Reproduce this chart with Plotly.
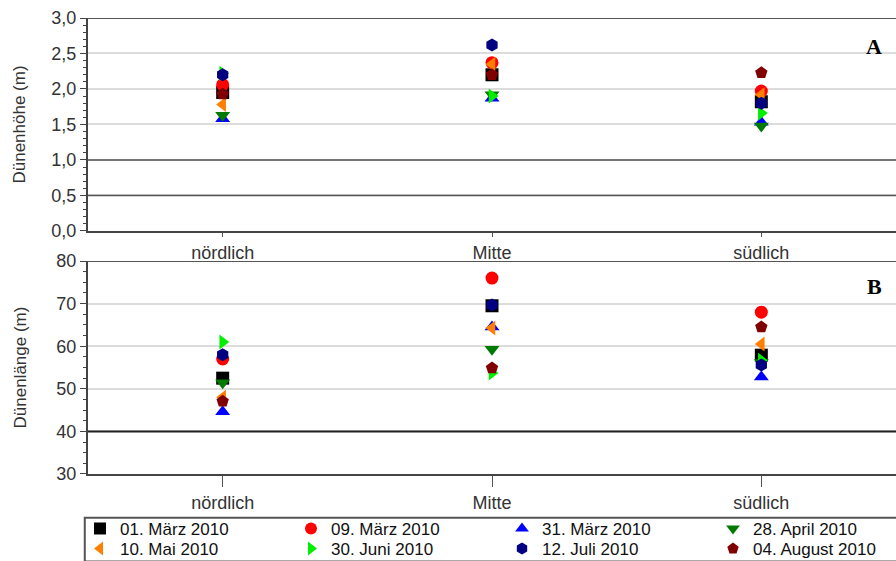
import plotly.graph_objects as go
from plotly.subplots import make_subplots

categories = ["nördlich", "Mitte", "südlich"]
dates = ["01. März 2010", "09. März 2010", "31. März 2010", "28. April 2010",
         "10. Mai 2010", "30. Juni 2010", "12. Juli 2010", "04. August 2010"]

# Dünenhöhe (m) per date: [nördlich, Mitte, südlich]
hoehe_01maerz = [1.95, 2.20, 1.82]
hoehe_09maerz = [2.06, 2.37, 1.97]
hoehe_31maerz = [1.58, 1.87, 1.53]
hoehe_28april = [1.63, 1.92, 1.48]
hoehe_10mai = [1.78, 2.35, 1.92]
hoehe_30juni = [2.22, 1.90, 1.66]
hoehe_12juli = [2.20, 2.62, 1.80]
hoehe_04aug = [1.93, 2.20, 2.23]

# Dünenlänge (m) per date: [nördlich, Mitte, südlich]
laenge_01maerz = [52.5, 69.5, 57.9]
laenge_09maerz = [57.0, 76.0, 68.0]
laenge_31maerz = [44.6, 64.5, 52.8]
laenge_28april = [51.4, 59.3, 56.2]
laenge_10mai = [48.0, 64.3, 60.5]
laenge_30juni = [61.0, 53.7, 56.7]
laenge_12juli = [58.0, 69.7, 55.6]
laenge_04aug = [47.1, 54.9, 64.5]

hoehe = [hoehe_01maerz, hoehe_09maerz, hoehe_31maerz, hoehe_28april,
         hoehe_10mai, hoehe_30juni, hoehe_12juli, hoehe_04aug]
laenge = [laenge_01maerz, laenge_09maerz, laenge_31maerz, laenge_28april,
          laenge_10mai, laenge_30juni, laenge_12juli, laenge_04aug]

symbols = ["square", "circle", "triangle-up", "triangle-down",
           "triangle-left", "triangle-right", "hexagon", "pentagon"]
colors = ["#000000", "#ff0000", "#0000ff", "#007a00",
          "#ff8000", "#00ee00", "#000080", "#800000"]

fig = make_subplots(rows=2, cols=1, vertical_spacing=0.066)

xpos = [1, 2, 3]
for i, d in enumerate(dates):
    lg = "legend" if i < 4 else "legend2"
    fig.add_trace(go.Scatter(x=xpos, y=hoehe[i], mode="markers", name=d,
                             marker=dict(symbol=symbols[i], color=colors[i], size=13,
                                         line=dict(width=0)),
                             legendgroup=d, showlegend=True, legend=lg), row=1, col=1)
    fig.add_trace(go.Scatter(x=xpos, y=laenge[i], mode="markers", name=d,
                             marker=dict(symbol=symbols[i], color=colors[i], size=13,
                                         line=dict(width=0)),
                             legendgroup=d, showlegend=False, legend=lg), row=2, col=1)

font = "Liberation Sans, Arial, sans-serif"
xcommon = dict(range=[0.5, 3.5], tickvals=xpos, ticktext=categories,
               ticks="outside", tickcolor="#555", showgrid=False,
               showline=True, linecolor="#444", linewidth=2, mirror=False,
               tickfont=dict(size=18, color="#333", family=font), zeroline=False)
fig.update_xaxes(**xcommon, ticklen=4, row=1, col=1)
fig.update_xaxes(**xcommon, ticklen=11, row=2, col=1)

ycommon = dict(showline=True, linecolor="#444", linewidth=2, ticks="outside",
               ticklen=6, tickcolor="#444", gridcolor="#dcdcdc", gridwidth=2,
               zeroline=False, tickfont=dict(size=18, color="#333", family=font),
               title_font=dict(size=17, color="#333", family=font),
               minor=dict(ticks="outside", ticklen=3, tickcolor="#444", showgrid=False))
fig.update_yaxes(**ycommon, range=[0, 3], dtick=0.5, tickformat=".1f",
                 minor_dtick=0.1, title_text="Dünenhöhe (m)", title_standoff=21,
                 row=1, col=1)
fig.update_yaxes(**ycommon, range=[30, 80], dtick=10, minor_dtick=2.5,
                 title_text="Dünenlänge (m)", title_standoff=25, row=2, col=1)

# top frame lines
fig.add_shape(type="line", xref="x domain", yref="y", x0=0, x1=1, y0=3, y1=3,
              line=dict(color="#555", width=2))
fig.add_shape(type="line", xref="x2 domain", yref="y2", x0=0, x1=1, y0=80, y1=80,
              line=dict(color="#555", width=2))
# dark horizontal lines
for yv in [1.0, 0.5]:
    fig.add_shape(type="line", xref="x domain", yref="y", x0=0, x1=1, y0=yv, y1=yv,
                  line=dict(color="#555", width=1.5))
fig.add_shape(type="line", xref="x2 domain", yref="y2", x0=0, x1=1, y0=40, y1=40,
              line=dict(color="#222", width=2))

# legend frame
fig.add_shape(type="rect", xref="paper", yref="paper", x0=-0.004, x1=1.01,
              y0=-0.192, y1=-0.096, line=dict(color="#555", width=2),
              fillcolor="rgba(0,0,0,0)")

fig.add_annotation(text="<b>A</b>", xref="paper", yref="y", x=0.985, y=2.6,
                   showarrow=False, xanchor="right",
                   font=dict(size=22, family="Liberation Serif, Times New Roman, serif", color="black"))
fig.add_annotation(text="<b>B</b>", xref="paper", yref="y2", x=0.985, y=74,
                   showarrow=False, xanchor="right",
                   font=dict(size=22, family="Liberation Serif, Times New Roman, serif", color="black"))

legcommon = dict(orientation="h", xanchor="left", yanchor="top",
                 borderwidth=0, bgcolor="rgba(0,0,0,0)",
                 entrywidth=166, entrywidthmode="pixels", tracegroupgap=0,
                 font=dict(size=17, family=font, color="#111"), itemsizing="constant")

fig.update_layout(
    width=896, height=561,
    margin=dict(l=88, r=0, t=18, b=87, autoexpand=False),
    plot_bgcolor="white", paper_bgcolor="white",
    separators=",.",
    font=dict(family=font, color="#222"),
    legend=dict(**legcommon, x=-0.0099, y=-0.081),
    legend2=dict(**legcommon, x=-0.0099, y=-0.125),
)

fig.write_html("out.html")
